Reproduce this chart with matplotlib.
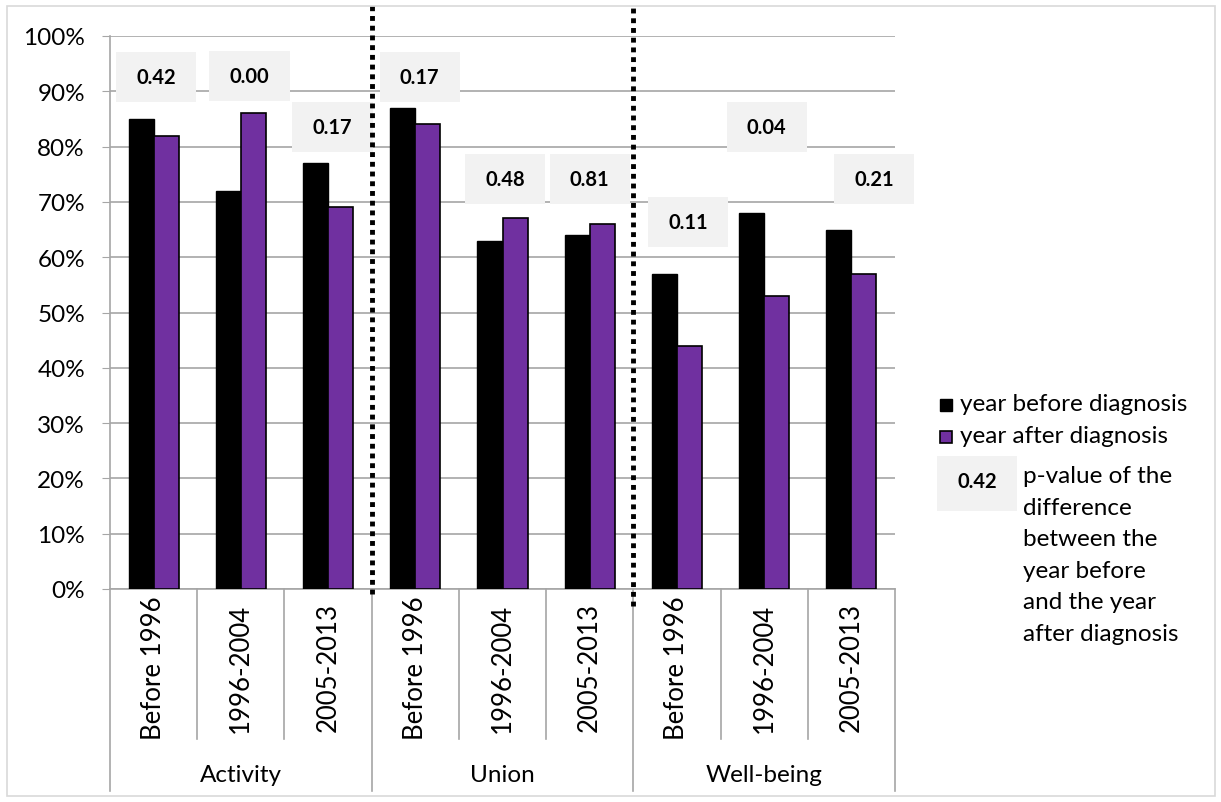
import matplotlib.pyplot as plt
from matplotlib.patches import Rectangle
import matplotlib.transforms as mtransforms

plt.rcParams['font.family'] = ['Lato', 'DejaVu Sans']

# data
groups = ['Activity', 'Union', 'Well-being']
periods = ['Before 1996', '1996-2004', '2005-2013']
before = [85, 72, 77, 87, 63, 64, 57, 68, 65]
after = [82, 86, 69, 84, 67, 66, 44, 53, 57]
pvalues = ['0.42', '0.00', '0.17', '0.17', '0.48', '0.81', '0.11', '0.04', '0.21']

# where the p-value boxes sit (data units)
p_x = [0.03, 1.10, 2.05, 3.05, 4.03, 5.00, 6.13, 7.03, 8.26]
p_y = [92.6, 92.8, 83.6, 92.6, 74.1, 74.1, 66.3, 83.6, 74.2]

W, H = 1221, 803
fig = plt.figure(figsize=(W / 100, H / 100), dpi=100)
ax = fig.add_axes([110 / W, 1 - 590 / H, 785 / W, 553 / H])

def px(x, y):
    return x / W, 1 - y / H

black = '#000000'
purple = '#7030a0'
grid = '#a6a6a6'
boxc = '#f2f2f2'
fs = 17.5

n = len(before)
xs = list(range(n))
bw = 0.287
ax.bar([x - bw / 2 for x in xs], before, bw, color=black, edgecolor='black', linewidth=1, zorder=3)
ax.bar([x + bw / 2 for x in xs], after, bw, color=purple, edgecolor='black', linewidth=1.2, zorder=3)

ax.set_xlim(-0.5, n - 0.5)
ax.set_ylim(0, 100)
ax.set_yticks(range(0, 101, 10))
ax.set_yticklabels([f'{v}%' for v in range(0, 101, 10)], fontsize=fs)
ax.yaxis.grid(True, color=grid, linewidth=1.2, zorder=0)
ax.set_xticks([])
ax.tick_params(axis='y', length=6, color=grid, pad=12)
for s in ['top', 'right']:
    ax.spines[s].set_visible(False)
ax.spines['left'].set_color(grid)
ax.spines['bottom'].set_color(grid)
ax.spines['left'].set_linewidth(1.2)
ax.spines['bottom'].set_linewidth(1.2)

# p-value boxes
for x, y, p in zip(p_x, p_y, pvalues):
    ax.add_patch(Rectangle((x - 0.46, y - 4.5), 0.92, 9.0, facecolor=boxc,
                           edgecolor='none', zorder=4, clip_on=False))
    ax.text(x, y, p, ha='center', va='center', fontsize=14.5, fontweight='bold', zorder=5)

# dotted separators between groups
ax.plot([2.5, 2.5], [-0.9, 105.8], color='black', linestyle=(0, (1, 1)), linewidth=3.5,
        clip_on=False, zorder=6)
ax.plot([5.5, 5.5], [-3.1, 105.8], color='black', linestyle=(0, (1, 1)), linewidth=3.5,
        clip_on=False, zorder=6)

# multi-level category axis
trans = mtransforms.blended_transform_factory(ax.transData, ax.transAxes)
for i in range(n):
    ax.text(i, -0.141, periods[i % 3], transform=trans, rotation=90, ha='center',
            va='center', fontsize=18.5)
for i in range(n + 1):
    b = i - 0.5
    low = -0.365 if i % 3 == 0 else -0.271
    ax.plot([b, b], [0, low], transform=trans, color=grid, linewidth=1.2, clip_on=False)
for g, name in enumerate(groups):
    ax.text(g * 3 + 1, -0.336, name, transform=trans, ha='center', va='center', fontsize=fs)

# legend drawn by hand
x0, y0 = px(940, 412)
fig.patches.append(Rectangle((x0, y0), 12 / W, 12 / H, transform=fig.transFigure,
                             facecolor=black, edgecolor='black'))
x0, y0 = px(940, 444)
fig.patches.append(Rectangle((x0, y0), 12 / W, 12 / H, transform=fig.transFigure,
                             facecolor=purple, edgecolor='black', linewidth=1.2))
fig.text(*px(960, 405), 'year before diagnosis', va='center', fontsize=fs)
fig.text(*px(960, 437), 'year after diagnosis', va='center', fontsize=fs)
x0, y0 = px(937, 512)
fig.patches.append(Rectangle((x0, y0), 80 / W, 55 / H, transform=fig.transFigure,
                             facecolor=boxc, edgecolor='none'))
fig.text(*px(977, 482), '0.42', ha='center', va='center', fontsize=14.5, fontweight='bold')
fig.text(*px(1023, 466), 'p-value of the\ndifference\nbetween the\nyear before\nand the year\nafter diagnosis',
         va='top', fontsize=fs, linespacing=1.62)

# outer frame
x0, y0 = px(7, 797)
fig.patches.append(Rectangle((x0, y0), 1208 / W, 790 / H, transform=fig.transFigure,
                             facecolor='none', edgecolor='#d9d9d9', linewidth=1.2))

fig.savefig('out.png', dpi=100)
